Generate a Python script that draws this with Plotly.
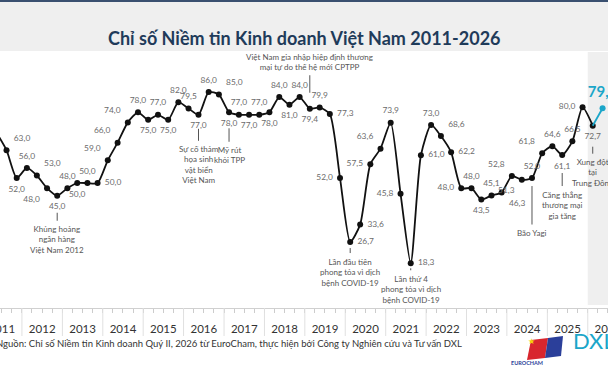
import plotly.graph_objects as go

# ---------------- data ----------------
quarters = [f"{y}-Q{q}" for y in range(2011, 2027) for q in range(1, 5)]
quarters = quarters[quarters.index("2011-Q2"):quarters.index("2026-Q2") + 1]

values = [
    70.0, 63.0, 52.0,              # 2011 Q2-Q4
    56.0, 53.0, 48.0, 45.0,        # 2012
    48.0, 50.0, 50.0, 50.0,        # 2013
    59.0, 66.0, 74.0, 78.0,        # 2014
    75.0, 77.0, 75.0, 82.0,        # 2015
    79.5, 77.0, 86.0, 85.0,        # 2016
    78.0, 77.0, 77.0, 77.0,        # 2017
    78.0, 84.0, 81.0, 84.0,        # 2018
    79.4, 79.9, 77.3, 52.0,        # 2019
    26.7, 33.6, 57.5, 63.6,        # 2020
    73.9, 45.8, 18.3, 61.0,        # 2021
    73.0, 68.6, 62.2, 48.0,        # 2022
    48.0, 43.5, 45.1, 46.3,        # 2023
    52.8, 51.3, 52.0, 61.8,        # 2024
    64.6, 61.1, 66.5, 80.0,        # 2025
    72.7, 79.6,                    # 2026 Q1-Q2
]

years = list(range(2011, 2027))
year_labels = [str(y) for y in years]

event_quarters = ["2012-Q4", "2016-Q2", "2017-Q1", "2019-Q1", "2020-Q1",
                  "2021-Q3", "2024-Q3", "2025-Q2", "2026-Q1"]
event_texts = [
    "Khủng hoảng<br>ngân hàng<br>Việt Nam 2012",
    "Sự cố thảm<br>họa sinh<br>vật biển<br>Việt Nam",
    "Mỹ rút<br>khỏi TPP",
    "Việt Nam gia nhập hiệp định thương<br>mại tự do thế hệ mới CPTPP",
    "Lần đầu tiên<br>phong tỏa vì dịch<br>bệnh COVID-19",
    "Lần thứ 4<br>phong tỏa vì dịch<br>bệnh COVID-19",
    "Bão Yagi",
    "Căng thẳng<br>thương mại<br>gia tăng",
    "Xung đột<br>tại<br>Trung Đông",
]

title_text = "Chỉ số Niềm tin Kinh doanh Việt Nam 2011-2026"
source_text = ("Nguồn: Chỉ số Niềm tin Kinh doanh Quý II, 2026 từ EuroCham, "
               "thực hiện bởi Công ty Nghiên cứu và Tư vấn DXL")

# ---------------- styles ----------------
label_pos = [
    "top center", "top right", "bottom center",
    "top center", "top right", "bottom left", "bottom center",
    "top center", "bottom center", "top center", "middle right",
    "top left", "top left", "top left", "top center",
    "bottom center", "top center", "bottom center", "top center",
    "top center", "bottom center", "top center", "top right",
    "bottom center", "top center", "bottom center", "top center",
    "bottom center", "top center", "bottom center", "top center",
    "bottom center", "top center", "middle right", "middle left",
    "middle right", "middle right", "middle left", "top left",
    "top center", "middle left", "middle right", "middle right",
    "top center", "top right", "middle right", "middle left",
    "top center", "bottom center", "top center", "bottom right",
    "top left", "bottom left", "top center", "top left",
    "top center", "bottom center", "top center", "middle left",
    "bottom center", "top center",
]
event_ay = [44, 50, 43, -47, 30, 26, 55, 50, 47]
event_standoff = [17, 14, 16, 16, 6, 5, 8, 18, 21]

FONT = "Lato"
TEAL = "#1ba6c9"
W, H = 608, 388
T, B = 45, 80
PH = H - T - B


def qdate(label):
    y, q = label.split("-Q")
    return f"{y}-{3 * int(q) - 1:02d}-15"


def py(p):  # pixel y -> paper y
    return (H - B - p) / PH


def px(p):
    return p / W


dates = [qdate(q) for q in quarters]
fmt = [f"{v:.1f}".replace(".", ",") for v in values]

fig = go.Figure()

# main black line (up to 2026 Q1)
fig.add_trace(go.Scatter(
    x=dates[:-1], y=values[:-1], mode="lines+markers",
    line=dict(color="#111111", width=1.8, shape="spline", smoothing=0.6),
    marker=dict(color="#111111", size=6), hoverinfo="skip", showlegend=False))

# teal last segment
fig.add_trace(go.Scatter(
    x=dates[-2:], y=values[-2:], mode="lines",
    line=dict(color=TEAL, width=1.8), hoverinfo="skip", showlegend=False))
fig.add_trace(go.Scatter(
    x=dates[-1:], y=values[-1:], mode="markers",
    marker=dict(color=TEAL, size=6), hoverinfo="skip", showlegend=False))

# value labels
texts = fmt[:-1] + [f"<b>{fmt[-1]}</b>"]
colors = ["#6b6b6b"] * (len(fmt) - 1) + [TEAL]
sizes = [8.4] * (len(fmt) - 1) + [15]
fig.add_trace(go.Scatter(
    x=dates, y=values, mode="markers+text", text=texts,
    textposition=label_pos,
    textfont=dict(family=FONT, size=sizes, color=colors),
    marker=dict(size=10, opacity=0), hoverinfo="skip", showlegend=False,
    cliponaxis=False))

shapes = []
# title band
shapes.append(dict(type="rect", xref="paper", yref="paper", x0=0, x1=1,
                   y0=py(51), y1=py(0), fillcolor="#efefef", line_width=0,
                   layer="below"))
shapes.append(dict(type="rect", xref="paper", yref="paper", x0=0, x1=1,
                   y0=py(2), y1=py(0), fillcolor="#3a5070", line_width=0))
# 2026 shaded region
shapes.append(dict(type="rect", xref="x", yref="paper", x0="2026-01-01",
                   x1="2026-07-03", y0=py(305), y1=py(52),
                   fillcolor="#efefef", line_width=0, layer="below"))
# year separators in axis band
for y in years:
    shapes.append(dict(type="line", xref="x", yref="paper",
                       x0=f"{y}-01-01", x1=f"{y}-01-01",
                       y0=py(308), y1=py(336),
                       line=dict(color="#e0e0e0", width=1)))

# EuroCham flag (approximation)
shapes.append(dict(type="path", xref="paper", yref="paper",
                   path=f"M {px(527)},{py(360)} L {px(531)},{py(340)} L {px(548)},{py(338)} L {px(545)},{py(358)} Z",
                   fillcolor="#d8262e", line_width=0))
shapes.append(dict(type="path", xref="paper", yref="paper",
                   path=f"M {px(545)},{py(358)} L {px(548)},{py(338)} L {px(563)},{py(336)} L {px(561)},{py(356)} Z",
                   fillcolor="#2b3f9a", line_width=0))

annotations = []
for q, t, ay, so in zip(event_quarters, event_texts, event_ay, event_standoff):
    i = quarters.index(q)
    annotations.append(dict(
        x=dates[i], y=values[i], xref="x", yref="y", text=t,
        showarrow=True, arrowhead=0, arrowwidth=1, arrowcolor="#555555",
        ax=0, ay=ay, standoff=so, borderpad=3,
        font=dict(family=FONT, size=8, color="#555555")))

annotations.append(dict(
    x=0.5, y=py(25), xref="paper", yref="paper", showarrow=False,
    text=f"<b>{title_text}</b>",
    font=dict(family=FONT, size=18, color="#1f3b5a")))
annotations.append(dict(
    x=px(-6), y=py(351), xref="paper", yref="paper", showarrow=False,
    xanchor="left", text=source_text,
    font=dict(family=FONT, size=9.5, color="#333333")))
annotations.append(dict(
    x=px(537), y=py(348), xref="paper", yref="paper", showarrow=False,
    text="★", font=dict(size=8, color="#f5d10a")))
annotations.append(dict(
    x=px(545), y=py(368), xref="paper", yref="paper", showarrow=False,
    text="<b>EUROCHAM</b>", font=dict(family=FONT, size=5.5, color="#2b3f9a")))
annotations.append(dict(
    x=px(571), y=py(356), xref="paper", yref="paper", showarrow=False,
    xanchor="left", text="DXL", font=dict(family=FONT, size=22, color=TEAL)))

fig.update_layout(
    width=W, height=H,
    margin=dict(l=0, r=0, t=T, b=B, autoexpand=False),
    paper_bgcolor="white", plot_bgcolor="white",
    shapes=shapes, annotations=annotations,
    xaxis=dict(
        type="date", range=["2011-06-17", "2026-07-03"],
        automargin=False,
        tickmode="array",
        tickvals=[f"{y}-07-02 12:00" for y in years],
        ticktext=year_labels,
        ticks="", ticklabeloverflow="allow",
        showgrid=False, zeroline=False,
        showline=True, linecolor="#d0d0d0", linewidth=1,
        ticklabelstandoff=10,
        tickfont=dict(family=FONT, size=11.5, color="#333333"),
        minor=dict(dtick="M3", tick0="2011-01-01", ticks="outside",
                   ticklen=4, tickcolor="#cccccc", showgrid=False),
        fixedrange=True),
    yaxis=dict(range=[0.62, 104.6], visible=False, fixedrange=True,
               automargin=False),
    font=dict(family=FONT),
)

fig.write_html("out.html")
